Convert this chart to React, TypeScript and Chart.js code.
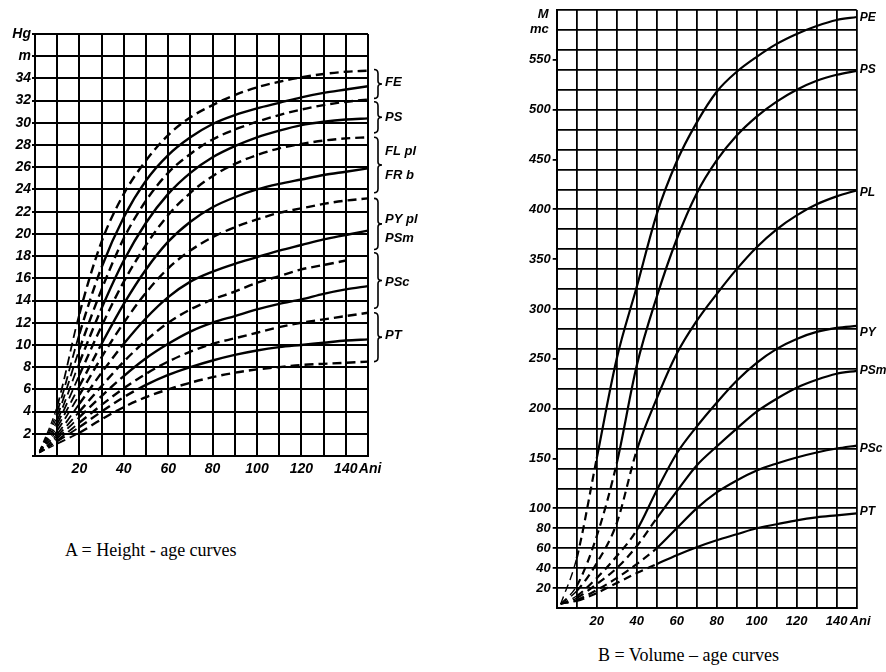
import React, { useEffect, useRef } from 'react';
import { Chart, registerables } from 'chart.js';

Chart.register(...registerables);

// ---------- Chart A: Height - age curves ----------
const AGES_A = [2, 10, 20, 30, 40, 50, 60, 70, 80, 90, 100, 110, 120, 130, 140, 150];
const FE_UPPER = [0.4, 4.5, 12.8, 19.3, 23.6, 26.6, 28.9, 30.5, 31.6, 32.5, 33.2, 33.7, 34.1, 34.4, 34.6, 34.7];
const FE_LOWER = [0.4, 4.0, 11.0, 17.0, 21.5, 24.8, 27.1, 28.7, 29.9, 30.7, 31.3, 31.8, 32.3, 32.7, 33.0, 33.3];
const PS_UPPER = [0.4, 3.6, 9.6, 15.0, 19.6, 23.0, 25.5, 27.2, 28.5, 29.4, 30.1, 30.7, 31.2, 31.6, 31.9, 32.1];
const PS_LOWER = [0.4, 3.2, 8.4, 13.3, 17.6, 21.0, 23.6, 25.5, 26.9, 27.9, 28.7, 29.3, 29.8, 30.1, 30.3, 30.4];
const FL_PL = [0.4, 2.9, 7.3, 11.7, 15.7, 19.0, 21.7, 23.7, 25.2, 26.3, 27.1, 27.7, 28.1, 28.4, 28.6, 28.7];
const FR_B = [0.4, 2.6, 6.3, 10.1, 13.7, 16.8, 19.3, 21.1, 22.4, 23.3, 24.0, 24.5, 24.9, 25.3, 25.6, 25.9];
const PY_PL = [0.4, 2.3, 5.5, 8.9, 12.0, 14.7, 16.9, 18.5, 19.7, 20.6, 21.3, 21.9, 22.3, 22.7, 23.0, 23.2];
const PSM_A = [0.4, 2.0, 4.7, 7.5, 10.1, 12.4, 14.3, 15.7, 16.6, 17.3, 17.9, 18.5, 19.0, 19.5, 19.9, 20.3];
const PSC_UPPER = [0.3, 1.8, 4.0, 6.3, 8.5, 10.4, 12.0, 13.2, 14.1, 14.8, 15.6, 16.2, 16.8, 17.2, 17.6, null];
const PSC_LOWER = [0.3, 1.6, 3.5, 5.4, 7.2, 8.8, 10.1, 11.2, 12.0, 12.6, 13.2, 13.7, 14.1, 14.6, 15.0, 15.3];
const PT_UPPER = [0.3, 1.4, 3.0, 4.6, 6.1, 7.4, 8.5, 9.4, 10.1, 10.6, 11.1, 11.6, 12.0, 12.3, 12.6, 12.9];
const PT_MID = [0.3, 1.3, 2.6, 4.0, 5.3, 6.4, 7.3, 8.0, 8.6, 9.1, 9.5, 9.8, 10.0, 10.2, 10.4, 10.5];
const PT_LOWER = [0.3, 1.1, 2.1, 3.3, 4.4, 5.3, 6.0, 6.6, 7.1, 7.5, 7.8, 8.0, 8.2, 8.3, 8.4, 8.5];

// [label, values, dashed, age from which solid]
const SERIES_A: [string, (number | null)[], boolean, number][] = [
  ['FE sup', FE_UPPER, true, 0],
  ['FE inf', FE_LOWER, false, 25],
  ['PS sup', PS_UPPER, true, 0],
  ['PS inf', PS_LOWER, false, 30],
  ['FL pl', FL_PL, true, 0],
  ['FR b', FR_B, false, 30],
  ['PY pl', PY_PL, true, 0],
  ['PSm', PSM_A, false, 35],
  ['PSc sup', PSC_UPPER, true, 0],
  ['PSc inf', PSC_LOWER, false, 40],
  ['PT sup', PT_UPPER, true, 0],
  ['PT med', PT_MID, false, 45],
  ['PT inf', PT_LOWER, true, 0],
];

// brackets: [top value, bottom value]
const BRACKETS_A: [number, number][] = [
  [34.8, 32.2], [31.9, 29.1], [28.7, 23.7], [23.2, 18.6], [18.3, 13.3], [12.9, 8.5],
];
const GROUP_LABELS_A: [string, number][] = [
  ['FE', 33.6], ['PS', 30.5], ['FL pl', 27.4], ['FR b', 25.3],
  ['PY pl', 21.3], ['PSm', 19.6], ['PSc', 15.6], ['PT', 10.9],
];

// ---------- Chart B: Volume - age curves ----------
const AGES_B = [2, 10, 20, 30, 40, 50, 60, 70, 80, 90, 100, 110, 120, 130, 140, 150];
const PE_B = [4, 50, 150, 250, 322, 395, 448, 487, 518, 538, 553, 566, 576, 584, 590, 593];
const PS_B = [4, 22, 72, 145, 243, 312, 370, 416, 449, 474, 493, 508, 520, 529, 535, 539];
const PL_B = [4, 17, 45, 85, 158, 210, 255, 288, 315, 340, 362, 380, 394, 405, 413, 419];
const PY_B = [4, 12, 30, 52, 78, 118, 155, 182, 206, 228, 246, 260, 270, 277, 281, 283];
const PSM_B = [4, 10, 24, 40, 62, 90, 117, 143, 162, 180, 197, 210, 221, 229, 235, 238];
const PSC_B = [4, 8, 18, 30, 44, 60, 80, 100, 116, 128, 138, 145, 151, 156, 160, 163];
const PT_B = [4, 7, 15, 25, 35, 44, 53, 61, 68, 74, 80, 84, 88, 91, 93, 95];

const SERIES_B: [string, number[], number, number][] = [
  ['PE', PE_B, 20, 592],
  ['PS', PS_B, 25, 540],
  ['PL', PL_B, 35, 417],
  ['PY', PY_B, 40, 276],
  ['PSm', PSM_B, 45, 238],
  ['PSc', PSC_B, 45, 160],
  ['PT', PT_B, 42, 97],
];
const Y_LABELS_B = [20, 40, 60, 80, 100, 150, 200, 250, 300, 350, 400, 450, 500, 550];

const TICK_FONT = { family: 'Liberation Sans', style: 'italic' as const, weight: 'bold' as const, size: 14 };
const TICK_FONT_B = { family: 'Liberation Sans', style: 'italic' as const, weight: 'bold' as const, size: 13 };
const DASH = [9, 5];
const FINE_DASH = [6, 4];

function HeightChart() {
  const ref = useRef<HTMLCanvasElement>(null);
  useEffect(() => {
    const W = 430, H = 500;
    const datasets = SERIES_A.map(([label, vals, dashed, solidFrom]) => ({
      label,
      data: AGES_A.map((a, i) => ({ x: a, y: vals[i] })),
      borderColor: '#000',
      borderWidth: 2.4,
      pointRadius: 0,
      fill: false,
      cubicInterpolationMode: 'monotone' as const,
      borderDash: dashed ? DASH : [],
      spanGaps: false,
      segment: {
        borderWidth: (ctx: any) => (ctx.p0.parsed.x < 10 ? 1.3 : ctx.p0.parsed.x < 20 ? 1.8 : undefined),
        borderDash: (ctx: any) => {
          if (ctx.p0.parsed.x < 10) return FINE_DASH;
          if (dashed) return undefined;
          return ctx.p0.parsed.x < solidFrom ? DASH : undefined;
        },
      },
    }));
    const decor = {
      id: 'decorA',
      afterDraw(chart: any) {
        const c = chart.ctx;
        const ys = chart.scales.y;
        const xs = chart.scales.x;
        c.save();
        c.strokeStyle = '#000';
        c.fillStyle = '#000';
        c.lineWidth = 1.6;
        const bx = chart.chartArea.right + 6;
        BRACKETS_A.forEach(([t, b]) => {
          const y0 = ys.getPixelForValue(t);
          const y1 = ys.getPixelForValue(b);
          const ym = (y0 + y1) / 2;
          c.beginPath();
          c.moveTo(bx, y0);
          c.quadraticCurveTo(bx + 4, y0, bx + 4, y0 + 4);
          c.lineTo(bx + 4, ym - 3);
          c.quadraticCurveTo(bx + 4, ym, bx + 8, ym);
          c.quadraticCurveTo(bx + 4, ym, bx + 4, ym + 3);
          c.lineTo(bx + 4, y1 - 4);
          c.quadraticCurveTo(bx + 4, y1, bx, y1);
          c.stroke();
        });
        c.font = 'italic bold 13px "Liberation Sans"';
        c.textAlign = 'left';
        c.textBaseline = 'middle';
        GROUP_LABELS_A.forEach(([txt, v]) => {
          c.fillText(txt, bx + 11, ys.getPixelForValue(v));
        });
        c.font = 'italic bold 14px "Liberation Sans"';
        c.fillText('Ani', xs.getPixelForValue(140) + 13, chart.chartArea.bottom + 13);
        c.restore();
      },
    };
    const chart = new Chart(ref.current!, {
      type: 'line',
      data: { datasets },
      options: {
        animation: false,
        responsive: false,
        events: [],
        layout: { padding: { left: 0, top: 34, right: W - 368, bottom: 0 } },
        plugins: { legend: { display: false }, tooltip: { enabled: false } },
        scales: {
          x: {
            type: 'linear',
            min: 0,
            max: 150,
            afterFit: (s: any) => { s.height = H - 456; },
            border: { display: true, color: '#000', width: 2 },
            grid: { color: '#000', lineWidth: 2, drawTicks: false },
            ticks: {
              stepSize: 10,
              autoSkip: false,
              maxRotation: 0,
              padding: 5,
              color: '#000',
              font: TICK_FONT,
              callback: (v: any) => {
                const n = Math.round(Number(v));
                return n > 0 && n <= 140 && n % 20 === 0 ? String(n) : '';
              },
            },
          },
          y: {
            type: 'linear',
            min: 0,
            max: 38,
            afterFit: (s: any) => { s.width = 35; },
            border: { display: true, color: '#000', width: 2 },
            grid: { color: '#000', lineWidth: 2, tickLength: 3 },
            ticks: {
              stepSize: 2,
              autoSkip: false,
              padding: 1,
              color: '#000',
              font: TICK_FONT,
              callback: (v: any) => {
                const n = Math.round(Number(v));
                if (n === 38) return 'Hg';
                if (n === 36) return 'm';
                if (n === 0) return '';
                return String(n);
              },
            },
          },
        },
      },
      plugins: [decor],
    });
    return () => chart.destroy();
  }, []);
  return <canvas ref={ref} width={430} height={500} style={{ position: 'absolute', left: 0, top: 0, width: 430, height: 500 }} />;
}

function VolumeChart() {
  const ref = useRef<HTMLCanvasElement>(null);
  useEffect(() => {
    const W = 376, H = 640;
    const datasets = SERIES_B.map(([label, vals, solidFrom]) => ({
      label,
      data: AGES_B.map((a, i) => ({ x: a, y: vals[i] })),
      borderColor: '#000',
      borderWidth: 2.2,
      pointRadius: 0,
      fill: false,
      cubicInterpolationMode: 'monotone' as const,
      borderDash: [],
      segment: {
        borderWidth: (ctx: any) => (ctx.p0.parsed.x < 10 ? 1.4 : undefined),
        borderDash: (ctx: any) => (ctx.p0.parsed.x < solidFrom ? [8, 5] : undefined),
      },
    }));
    const decor = {
      id: 'decorB',
      afterDraw(chart: any) {
        const c = chart.ctx;
        const ys = chart.scales.y;
        const xs = chart.scales.x;
        c.save();
        c.fillStyle = '#000';
        c.font = 'italic bold 12px "Liberation Sans"';
        c.textAlign = 'left';
        c.textBaseline = 'middle';
        SERIES_B.forEach(([label, , , ly]) => {
          c.fillText(label, chart.chartArea.right + 3, ys.getPixelForValue(ly));
        });
        c.font = 'italic bold 13px "Liberation Sans"';
        c.fillText('Ani', xs.getPixelForValue(140) + 13, chart.chartArea.bottom + 13);
        c.textAlign = 'right';
        c.fillText('M', chart.chartArea.left - 8, ys.getPixelForValue(596));
        c.fillText('mc', chart.chartArea.left - 8, ys.getPixelForValue(581));
        c.restore();
      },
    };
    const chart = new Chart(ref.current!, {
      type: 'line',
      data: { datasets },
      options: {
        animation: false,
        responsive: false,
        events: [],
        layout: { padding: { left: 0, top: 10, right: W - 346.7, bottom: 0 } },
        plugins: { legend: { display: false }, tooltip: { enabled: false } },
        scales: {
          x: {
            type: 'linear',
            min: 0,
            max: 150,
            afterFit: (s: any) => { s.height = H - 608; },
            border: { display: true, color: '#000', width: 2 },
            grid: { color: '#000', lineWidth: 1.8, drawTicks: false },
            ticks: {
              stepSize: 10,
              autoSkip: false,
              maxRotation: 0,
              padding: 6,
              color: '#000',
              font: TICK_FONT_B,
              callback: (v: any) => {
                const n = Math.round(Number(v));
                return n > 0 && n <= 140 && n % 20 === 0 ? String(n) : '';
              },
            },
          },
          y: {
            type: 'linear',
            min: 0,
            max: 600,
            afterFit: (s: any) => { s.width = 46.7; },
            afterBuildTicks: (s: any) => {
              const vals: number[] = [];
              for (let v = 0; v <= 600; v += 20) vals.push(v);
              [150, 250, 350, 450, 550].forEach((v) => vals.push(v));
              vals.sort((a, b) => a - b);
              s.ticks = vals.map((v) => ({ value: v }));
            },
            border: { display: true, color: '#000', width: 2 },
            grid: {
              lineWidth: 1.8,
              tickLength: 4,
              color: (ctx: any) => (ctx.tick && ctx.tick.value % 20 === 0 ? '#000' : 'rgba(0,0,0,0)'),
              tickColor: (ctx: any) => (ctx.tick && Y_LABELS_B.includes(ctx.tick.value) ? '#000' : 'rgba(0,0,0,0)'),
            },
            ticks: {
              autoSkip: false,
              padding: 2,
              color: '#000',
              font: TICK_FONT_B,
              callback: (v: any) => {
                const n = Math.round(Number(v));
                return Y_LABELS_B.includes(n) ? String(n) : '';
              },
            },
          },
        },
      },
      plugins: [decor],
    });
    return () => chart.destroy();
  }, []);
  return <canvas ref={ref} width={376} height={640} style={{ position: 'absolute', left: 510, top: 0, width: 376, height: 640 }} />;
}

export default function App() {
  const cap: React.CSSProperties = {
    position: 'absolute',
    fontFamily: '"Liberation Serif", "Times New Roman", serif',
    fontSize: 18,
    color: '#000',
    whiteSpace: 'nowrap',
    lineHeight: '20px',
  };
  return (
    <div style={{ position: 'fixed', left: 0, top: 0, width: 886, height: 672, background: '#fff', overflow: 'hidden' }}>
      <HeightChart />
      <VolumeChart />
      <div style={{ ...cap, left: 65, top: 540 }}>A = Height - age curves</div>
      <div style={{ ...cap, left: 598, top: 645 }}>B = Volume – age curves</div>
    </div>
  );
}
